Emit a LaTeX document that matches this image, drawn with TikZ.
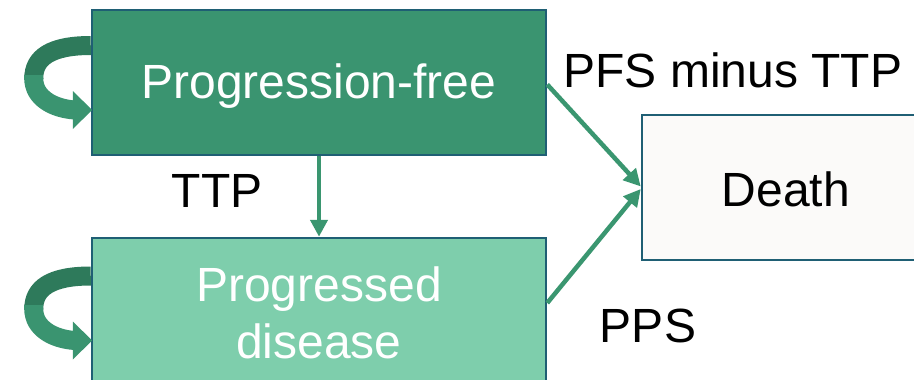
\documentclass[tikz,border=0pt]{standalone}
\usepackage{fontspec}
\setmainfont{Liberation Sans}
\usetikzlibrary{arrows.meta,calc}
\definecolor{pfgreen}{RGB}{58,148,112}
\definecolor{pdgreen}{RGB}{126,206,172}
\definecolor{edge}{RGB}{31,95,116}
\definecolor{arrowgreen}{RGB}{58,150,112}
\definecolor{curldark}{RGB}{46,122,91}
\definecolor{deathfill}{RGB}{251,250,249}
\tikzset{
  statebox/.style={draw=edge, line width=2.5pt, rectangle, inner sep=0pt, align=center,
    font=\fontsize{48}{57}\selectfont},
  trans/.style={draw=arrowgreen, line width=4.5pt, -{Triangle[length=17pt,width=17pt]}},
  lbl/.style={font=\fontsize{48}{56}\selectfont, text=black},
  curlup/.style={draw=curldark, line width=19pt},
  curllow/.style={draw=pfgreen, line width=19pt},
}
\begin{document}
\begin{tikzpicture}[x=1pt,y=-1pt]
\useasboundingbox (0,0) rectangle (914,380);
\node[statebox, fill=pfgreen, text=white, minimum width=454pt, minimum height=145pt, text height=42pt, text depth=10pt] (PF) at (319,82.5) {Progression-free};
\node[statebox, fill=pdgreen, text=white, minimum width=454pt, minimum height=150pt] (PD) at (319,313) {Progressed\\disease};
\node[statebox, fill=deathfill, text=black, minimum width=288pt, minimum height=145pt, text height=38pt, text depth=0pt] (D) at (786,187.5) {Death};
\draw[trans] (PF.south) -- (PD.north);
\draw[trans] ($(PF.east)+(0,2)$) -- ($(D.west)+(0,-1)$);
\draw[trans] ($(PD.east)+(0,-10)$) -- ($(D.west)+(0,1.5)$);
\node[lbl] (l1) at (733,70) {PFS minus TTP};
\node[lbl] (l2) at (217,191) {TTP};
\node[lbl] (l3) at (648,326) {PPS};
\foreach \b in {PF,PD}{
  \begin{scope}[shift={(\b.west)}]
    \draw[curllow] (-57,-4) .. controls (-57,15) and (-38,26) .. (-16,27.5);
    \fill[pfgreen] (-18,8.5) -- (1.5,27.5) -- (-18,46.5) -- cycle;
    \draw[curlup] (0,-37) .. controls (-40,-37) and (-57,-25) .. (-57,-4);
    \fill[pfgreen] (-66.5,-8) rectangle (-47.5,-3);
  \end{scope}
}
\end{tikzpicture}
\end{document}
